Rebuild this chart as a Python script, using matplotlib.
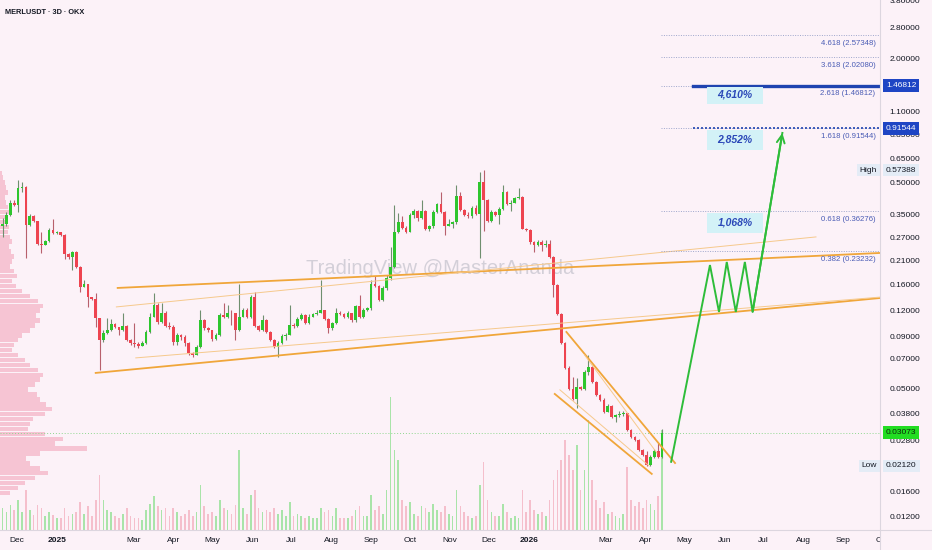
import matplotlib
matplotlib.use('Agg')
import matplotlib.pyplot as plt
import matplotlib.transforms as mtransforms
from matplotlib.ticker import FuncFormatter, NullLocator
from matplotlib.lines import Line2D
from matplotlib.patches import Rectangle
import numpy as np
import pandas as pd

# MERL/USDT 3-day candles (OKX)
start_date = '2024-11-20'
first_open = 0.306
closes = [0.316, 0.346, 0.396, 0.387, 0.468, 0.473, 0.312, 0.342, 0.327, 0.251,
          0.248, 0.259, 0.293, 0.283, 0.287, 0.277, 0.225, 0.217, 0.230, 0.195,
          0.155, 0.162, 0.139, 0.136, 0.110, 0.0861, 0.0932, 0.0963, 0.103, 0.0996,
          0.0963, 0.101, 0.0861, 0.0834, 0.0824, 0.0806, 0.0834, 0.0942, 0.112, 0.128,
          0.105, 0.117, 0.101, 0.0996, 0.0842, 0.0911, 0.0891, 0.0834, 0.0746, 0.0729,
          0.0797, 0.1076, 0.0985, 0.0963, 0.0871, 0.0911, 0.1136, 0.111, 0.117, 0.116,
          0.0963, 0.112, 0.120, 0.111, 0.139, 0.101, 0.0963, 0.1076, 0.0942, 0.0861,
          0.0797, 0.0834, 0.0901, 0.0911, 0.1018, 0.101, 0.109, 0.1136, 0.104, 0.112,
          0.115, 0.117, 0.120, 0.109, 0.0985, 0.104, 0.117, 0.115, 0.111, 0.116,
          0.1076, 0.126, 0.111, 0.120, 0.123, 0.162, 0.157, 0.1345, 0.154, 0.172,
          0.195, 0.287, 0.323, 0.302, 0.287, 0.346, 0.362, 0.338, 0.362, 0.296,
          0.306, 0.358, 0.391, 0.358, 0.309, 0.316, 0.320, 0.432, 0.366, 0.346,
          0.342, 0.374, 0.350, 0.501, 0.409, 0.327, 0.358, 0.346, 0.370, 0.447,
          0.391, 0.396, 0.418, 0.423, 0.299, 0.293, 0.256, 0.248, 0.256, 0.248,
          0.253, 0.217, 0.159, 0.115, 0.0834, 0.0631, 0.0500, 0.0447, 0.0511, 0.0500,
          0.0603, 0.0638, 0.0540, 0.0467, 0.0442, 0.0386, 0.0413, 0.0366, 0.0374, 0.0378,
          0.0382, 0.0316, 0.0292, 0.0283, 0.0253, 0.0239, 0.0214, 0.0234, 0.0250, 0.0234,
          0.03073]
highs = [0.338, 0.358, 0.409, 0.409, 0.512, 0.501, 0.479, 0.350, 0.346, 0.327,
         0.287, 0.262, 0.302, 0.331, 0.290, 0.287, 0.280, 0.227, 0.232, 0.232,
         0.197, 0.168, 0.152, 0.139, 0.145, 0.110, 0.0963, 0.110, 0.109, 0.104,
         0.0985, 0.116, 0.1018, 0.0871, 0.104, 0.0842, 0.0852, 0.0963, 0.116, 0.145,
         0.130, 0.130, 0.119, 0.105, 0.1018, 0.0932, 0.0921, 0.0911, 0.0842, 0.0754,
         0.0815, 0.121, 0.109, 0.0996, 0.0963, 0.0932, 0.117, 0.130, 0.128, 0.121,
         0.117, 0.162, 0.123, 0.123, 0.142, 0.148, 0.1018, 0.1136, 0.109, 0.0952,
         0.0871, 0.0852, 0.0921, 0.0932, 0.127, 0.104, 0.111, 0.116, 0.115, 0.115,
         0.117, 0.120, 0.168, 0.121, 0.110, 0.106, 0.123, 0.119, 0.116, 0.119,
         0.116, 0.128, 0.142, 0.123, 0.125, 0.168, 0.176, 0.159, 0.157, 0.178,
         0.243, 0.387, 0.354, 0.342, 0.306, 0.354, 0.370, 0.366, 0.409, 0.366,
         0.312, 0.366, 0.396, 0.447, 0.362, 0.331, 0.327, 0.484, 0.447, 0.370,
         0.358, 0.383, 0.387, 0.560, 0.57388, 0.414, 0.366, 0.362, 0.379, 0.484,
         0.452, 0.409, 0.427, 0.468, 0.432, 0.302, 0.296, 0.259, 0.262, 0.262,
         0.262, 0.262, 0.220, 0.161, 0.116, 0.0842, 0.0645, 0.0571, 0.0565, 0.0517,
         0.0617, 0.0729, 0.0645, 0.0546, 0.0472, 0.0452, 0.0423, 0.0418, 0.0378, 0.0391,
         0.0391, 0.0382, 0.0320, 0.0296, 0.0286, 0.0256, 0.0250, 0.0239, 0.0256, 0.0274,
         0.0320]
lows = [0.271, 0.309, 0.342, 0.383, 0.358, 0.447, 0.215, 0.309, 0.323, 0.248,
        0.227, 0.248, 0.256, 0.280, 0.280, 0.274, 0.212, 0.212, 0.188, 0.192,
        0.147, 0.155, 0.124, 0.1345, 0.0996, 0.0617, 0.0842, 0.0921, 0.0952, 0.0985,
        0.0911, 0.0952, 0.0852, 0.0815, 0.0797, 0.0788, 0.0806, 0.0824, 0.0932, 0.112,
        0.103, 0.104, 0.0996, 0.0974, 0.0815, 0.0815, 0.0861, 0.0806, 0.0729, 0.0713,
        0.0729, 0.0788, 0.0963, 0.0942, 0.0852, 0.0861, 0.0901, 0.110, 0.110, 0.1018,
        0.0861, 0.0952, 0.111, 0.110, 0.110, 0.0996, 0.0952, 0.0952, 0.0932, 0.0852,
        0.0788, 0.0713, 0.0824, 0.0861, 0.0911, 0.0985, 0.0996, 0.1076, 0.103, 0.103,
        0.111, 0.1136, 0.116, 0.1076, 0.0932, 0.0963, 0.103, 0.1136, 0.110, 0.110,
        0.106, 0.106, 0.110, 0.110, 0.119, 0.121, 0.155, 0.133, 0.133, 0.150,
        0.168, 0.192, 0.283, 0.299, 0.283, 0.293, 0.338, 0.327, 0.334, 0.293,
        0.290, 0.302, 0.354, 0.354, 0.277, 0.309, 0.302, 0.316, 0.362, 0.342,
        0.338, 0.338, 0.346, 0.215, 0.290, 0.323, 0.323, 0.342, 0.316, 0.366,
        0.387, 0.362, 0.396, 0.414, 0.296, 0.290, 0.253, 0.230, 0.245, 0.232,
        0.243, 0.215, 0.140, 0.1136, 0.0824, 0.0624, 0.0494, 0.0442, 0.0404, 0.0494,
        0.0494, 0.0584, 0.0534, 0.0462, 0.0437, 0.0382, 0.0391, 0.0362, 0.0345, 0.0366,
        0.0370, 0.0313, 0.0289, 0.0280, 0.0250, 0.0236, 0.0212, 0.0213, 0.0231, 0.0231,
        0.0231]
volumes = [22, 18, 25, 20, 30, 18, 40, 20, 15, 25, 22, 14, 18, 15, 12, 12, 22, 14, 16, 18,
           28, 16, 24, 14, 30, 55, 30, 20, 18, 14, 12, 16, 22, 14, 12, 12, 10, 20, 26, 34,
           24, 20, 22, 14, 22, 18, 14, 16, 20, 14, 18, 45, 24, 16, 18, 14, 30, 22, 20, 16,
           25, 80, 22, 16, 35, 40, 22, 18, 20, 18, 22, 16, 20, 14, 28, 14, 16, 14, 12, 14,
           12, 12, 22, 18, 20, 14, 22, 12, 12, 12, 14, 20, 24, 14, 14, 35, 20, 24, 16, 40,
           133, 80, 70, 30, 24, 28, 16, 14, 24, 22, 18, 26, 20, 18, 24, 16, 14, 40, 24, 18,
           14, 12, 14, 45, 68, 30, 18, 14, 14, 26, 18, 12, 14, 12, 40, 18, 30, 20, 16, 18,
           14, 30, 50, 60, 70, 90, 75, 60, 85, 40, 60, 110, 50, 30, 22, 28, 16, 18, 14, 12,
           16, 63, 30, 24, 28, 22, 30, 26, 20, 34, 100]

# visible range volume profile, top row first
profile_top, profile_bottom = 0.574, 0.0153
profile_vol = [2, 3, 5, 6, 8, 5, 6, 8, 10, 7, 6, 9, 8, 10, 12, 9, 11, 14,
               12, 10, 14, 17, 12, 16, 22, 30, 38, 43, 40, 36, 40, 35, 30, 22, 18, 14,
               12, 18, 25, 30, 38, 43, 40, 35, 28, 37, 40, 46, 52, 45, 33, 30, 28, 45,
               63, 55, 87, 40, 26, 30, 40, 48, 35, 25, 18, 10]

# fibonacci extension levels and targets
fib_ratios = ['4.618', '3.618', '2.618', '1.618', '0.618', '0.382']
fib_prices = [2.57348, 2.02080, 1.46812, 0.91544, 0.36276, 0.23232]
target_labels = ['4,610%', '2,852%', '1,068%']
target_tops = [1.46812, 0.91544, 0.36276]
target_bottoms = [1.20, 0.718, 0.285]

# projected path
path_dates = ['2026-04-21', '2026-05-21', '2026-05-28', '2026-06-03', '2026-06-10',
              '2026-06-17', '2026-06-23', '2026-07-16']
path_prices = [0.0222, 0.199, 0.118, 0.206, 0.118, 0.206, 0.118, 0.868]

# trend lines (date, price) pairs
channel_thick = [(('2025-02-17', 0.1542), ('2026-09-30', 0.2278)),
                 (('2025-01-31', 0.0598), ('2026-09-30', 0.1379)),
                 (('2026-01-30', 0.0944), ('2026-04-24', 0.0219)),
                 (('2026-01-21', 0.0473), ('2026-04-06', 0.0194))]
channel_thin = [(('2025-02-16', 0.1248), ('2026-08-11', 0.2723)),
                (('2025-03-03', 0.0707), ('2026-09-30', 0.1393)),
                (('2026-02-13', 0.0731), ('2026-04-10', 0.0245)),
                (('2026-01-25', 0.0495), ('2026-04-04', 0.0212))]

price_ticks = [3.8, 2.8, 2.0, 1.1, 0.85, 0.65, 0.5, 0.35, 0.27, 0.21, 0.16, 0.12,
               0.09, 0.07, 0.05, 0.038, 0.028, 0.016, 0.012]
last_price = 0.03073
high_price = 0.57388
low_price = 0.02120

month_dates = ['2024-12-01', '2025-01-01', '2025-03-01', '2025-04-01', '2025-05-01',
               '2025-06-01', '2025-07-01', '2025-08-01', '2025-09-01', '2025-10-01',
               '2025-11-01', '2025-12-01', '2026-01-01', '2026-03-01', '2026-04-01',
               '2026-05-01', '2026-06-01', '2026-07-01', '2026-08-01', '2026-09-01',
               '2026-10-01']
month_labels = ['Dec', '2025', 'Mar', 'Apr', 'May', 'Jun', 'Jul', 'Aug', 'Sep', 'Oct',
                'Nov', 'Dec', '2026', 'Mar', 'Apr', 'May', 'Jun', 'Jul', 'Aug', 'Sep', 'Oct']

# ---------------------------------------------------------------------
plt.rcParams['font.family'] = ['Liberation Sans', 'DejaVu Sans']
bg = '#fcf2f8'
up_col, dn_col = '#2ec62e', '#ee4450'
txt_col = '#131722'

dates = pd.date_range(start_date, periods=len(closes), freq='3D')
x = matplotlib.dates.date2num(dates)
closes = np.array(closes)
opens = np.concatenate([[first_open], closes[:-1]])
highs = np.maximum(np.array(highs), np.maximum(opens, closes))
lows = np.minimum(np.array(lows), np.minimum(opens, closes))
up = closes >= opens

xlim = (matplotlib.dates.date2num(pd.Timestamp('2024-11-18')),
        matplotlib.dates.date2num(pd.Timestamp('2026-09-29 12:00')))
ylim = (0.01038, 3.82)

fig = plt.figure(figsize=(9.32, 5.5), dpi=100)
fig.patch.set_facecolor(bg)
rect = [0, 20 / 550, 880 / 932, 530 / 550]
ax_prof = fig.add_axes(rect)
ax_vol = fig.add_axes(rect)
ax = fig.add_axes(rect)
for a in (ax_prof, ax_vol, ax):
    a.set_facecolor('none')
    for s in a.spines.values():
        s.set_visible(False)
    a.set_xticks([])
    a.set_yticks([])

# volume profile on the left
edges = np.geomspace(profile_top, profile_bottom, len(profile_vol) + 1)
pv = np.array(profile_vol, dtype=float)
ax_prof.set_yscale('log')
ax_prof.barh(edges[1:], pv / pv.max() * (87 / 880), height=(edges[:-1] - edges[1:]) * 0.9,
             left=0, align='edge', color='#f5bccd', alpha=0.85, linewidth=0)
ax_prof.set_xlim(0, 1)
ax_prof.set_ylim(*ylim)
ax_prof.yaxis.set_minor_locator(NullLocator())
ax_prof.set_yticks([])

# volume bars
ax_vol.bar(x, volumes, width=1.3, color=np.where(up, '#a9e4a9', '#f5bfcc'), linewidth=0)
ax_vol.set_xlim(*xlim)
ax_vol.set_ylim(0, 530)

# price chart
ax.set_yscale('log')
ax.set_xlim(*xlim)
ax.set_ylim(*ylim)
ax.vlines(x, lows, highs, colors=np.where(up, '#6f8f6f', '#b8606c'), linewidth=0.8, zorder=3)
body_bot = np.minimum(opens, closes)
body_h = np.maximum(np.abs(closes - opens), body_bot * 0.008)
ax.bar(x, body_h, bottom=body_bot, width=2.1, color=np.where(up, up_col, dn_col),
       linewidth=0, zorder=4)

# trend lines
for (d0, p0), (d1, p1) in channel_thick:
    ax.plot(pd.to_datetime([d0, d1]), [p0, p1], color='#f0a63a', lw=1.3, zorder=5)
for (d0, p0), (d1, p1) in channel_thin:
    ax.plot(pd.to_datetime([d0, d1]), [p0, p1], color='#f6c98c', lw=0.7, zorder=5)

# current price line
ax.axhline(last_price, color='#8fd88f', lw=0.7, ls=(0, (1, 2)), zorder=2)

# fib levels
fib_start = pd.Timestamp('2026-04-13')
fib_strong = pd.Timestamp('2026-05-08')
x_end = pd.Timestamp('2026-09-30')
trans = mtransforms.blended_transform_factory(ax.transAxes, ax.transData)
for r, p in zip(fib_ratios, fib_prices):
    ax.plot([fib_start, x_end], [p, p], color='#9ea6cc', lw=0.7, ls=(0, (1, 1.5)), zorder=5)
    ax.text(0.995, p * 0.915, f'{r} ({p:.5f})', transform=trans,
            ha='right', va='center', fontsize=5.6, color='#4a5cb5', zorder=6)
ax.plot([fib_strong, x_end], [fib_prices[2]] * 2, color='#1f44b0', lw=2.4, zorder=6)
ax.plot([fib_strong, x_end], [fib_prices[3]] * 2, color='#1f44b0', lw=1.2,
        ls=(0, (1.2, 1.2)), zorder=6)

# target boxes
for lab, top, bot in zip(target_labels, target_tops, target_bottoms):
    x0 = matplotlib.dates.date2num(pd.Timestamp('2026-05-19'))
    x1 = matplotlib.dates.date2num(pd.Timestamp('2026-07-01'))
    ax.add_patch(Rectangle((x0, bot), x1 - x0, top * 0.985 - bot, facecolor='#d3f2f7',
                           edgecolor='none', zorder=6))
    ax.text((x0 + x1) / 2, np.sqrt(top * bot), lab, ha='center', va='center', fontsize=7.5,
            style='italic', weight='bold', color='#2b48b8', zorder=7)

# projected path
pdates = pd.to_datetime(path_dates)
ax.plot(pdates, path_prices, color='#2ebd3a', lw=1.4, zorder=7, solid_joinstyle='miter')
ax.annotate('', xy=(pdates[-1], path_prices[-1]), xytext=(pdates[-2], path_prices[-2]),
            arrowprops=dict(arrowstyle='->', color='#2ebd3a', lw=1.4, mutation_scale=14,
                            shrinkA=0, shrinkB=0), zorder=7)

# watermark
ax.text(0.5, 0.494, 'TradingView @MasterAnanda', transform=ax.transAxes, ha='center',
        va='center', fontsize=14.5, color='#b9b9c4', alpha=0.6, zorder=1)

# right price scale
ax.yaxis.tick_right()
ax.set_yticks(price_ticks)
ax.yaxis.set_major_formatter(FuncFormatter(lambda v, p: f'{v:.5f}'))
ax.yaxis.set_minor_locator(NullLocator())
ax.tick_params(axis='y', length=0, pad=7, labelsize=6, labelcolor=txt_col)


def price_tag(price, fc, tc):
    ax.text(1.0 + 6 / 880, price, f'{price:.5f}', transform=trans, ha='left', va='center',
            fontsize=6, color=tc, clip_on=False, zorder=10,
            bbox=dict(boxstyle='square,pad=0.35', fc=fc, ec='none'))


price_tag(1.46812, '#1e45c4', 'white')
price_tag(0.91544, '#1e45c4', 'white')
price_tag(high_price, '#e4ecf6', txt_col)
price_tag(last_price, '#22dd22', '#0b2a0b')
price_tag(low_price, '#e4ecf6', txt_col)
for p, lab in [(high_price, 'High'), (low_price, 'Low')]:
    ax.text(1.0 - 3 / 880, p, lab, transform=trans, ha='right', va='center', fontsize=6,
            color=txt_col, zorder=10, clip_on=False,
            bbox=dict(boxstyle='square,pad=0.35', fc='#e4ecf6', ec='none'))

# time scale
ax_t = fig.add_axes([0, 0, 880 / 932, 20 / 550])
ax_t.set_facecolor('none')
ax_t.axis('off')
ax_t.set_xlim(*xlim)
ax_t.set_ylim(0, 1)
for d, lab in zip(month_dates, month_labels):
    ax_t.text(matplotlib.dates.date2num(pd.Timestamp(d)), 0.45, lab, ha='center', va='center',
              fontsize=6, color=txt_col, weight='bold' if lab.isdigit() else 'normal',
              clip_on=True)

# separators
fig.add_artist(Line2D([880 / 932, 880 / 932], [0, 1], color='#dcd6df', lw=0.8))
fig.add_artist(Line2D([0, 1], [20 / 550, 20 / 550], color='#dcd6df', lw=0.8))

fig.text(5 / 932, 1 - 12 / 550, 'MERLUSDT · 3D · OKX', fontsize=5.3, weight='bold',
         color=txt_col, va='center', ha='left')

plt.savefig('out.png', dpi=100, facecolor=bg)
